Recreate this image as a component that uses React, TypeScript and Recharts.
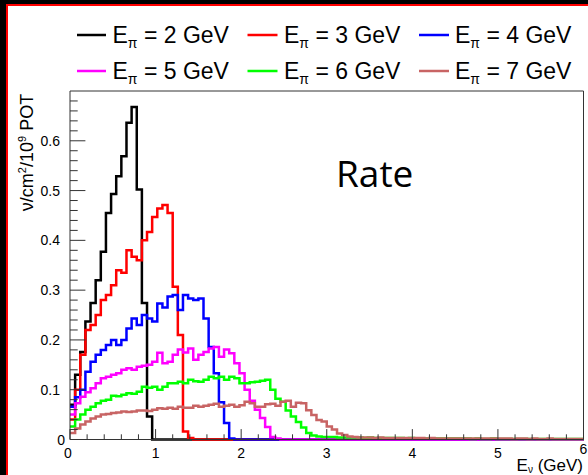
import React from 'react';
import { LineChart, Line, XAxis, YAxis } from 'recharts';

const BIN_WIDTH = 0.06;
const N_BINS = 100;

// Histogram contents (neutrinos/cm^2/10^9 POT per 0.06 GeV bin)
const E_PI_2 = [0.07, 0.13, 0.176, 0.237, 0.274, 0.32, 0.377, 0.455, 0.493, 0.529, 0.569, 0.636, 0.668, 0.502, 0.274, 0.046, 0.0];
const E_PI_3 = [0.04, 0.1, 0.17, 0.22, 0.23, 0.25, 0.28, 0.29, 0.31, 0.34, 0.335, 0.38, 0.367, 0.36, 0.4, 0.417, 0.447, 0.464, 0.471, 0.455, 0.307, 0.21, 0.016, 0.003, 0.0];
const E_PI_4 = [0.066, 0.085, 0.1, 0.136, 0.156, 0.17, 0.18, 0.19, 0.2, 0.19, 0.2, 0.223, 0.243, 0.23, 0.25, 0.243, 0.237, 0.273, 0.265, 0.287, 0.29, 0.26, 0.29, 0.283, 0.28, 0.283, 0.243, 0.186, 0.133, 0.075, 0.033, 0.002, 0.0];
const E_PI_5 = [0.05, 0.073, 0.086, 0.095, 0.103, 0.113, 0.123, 0.126, 0.13, 0.133, 0.14, 0.143, 0.14, 0.146, 0.148, 0.15, 0.156, 0.174, 0.153, 0.156, 0.17, 0.181, 0.175, 0.183, 0.16, 0.17, 0.176, 0.183, 0.186, 0.166, 0.181, 0.173, 0.153, 0.133, 0.1, 0.078, 0.06, 0.043, 0.025, 0.005, 0.002, 0.0];
const E_PI_6 = [0.026, 0.04, 0.05, 0.06, 0.066, 0.073, 0.078, 0.08, 0.088, 0.087, 0.09, 0.093, 0.092, 0.096, 0.106, 0.104, 0.106, 0.1, 0.106, 0.113, 0.113, 0.116, 0.113, 0.12, 0.117, 0.116, 0.12, 0.126, 0.123, 0.126, 0.12, 0.126, 0.123, 0.113, 0.113, 0.115, 0.116, 0.118, 0.12, 0.1, 0.082, 0.076, 0.058, 0.046, 0.035, 0.024, 0.013, 0.008, 0.006, 0.005, 0.005,
  0.005, 0.004, 0.004, 0.004, 0.004, 0.004, 0.003, 0.004, 0.003, 0.003, 0.003, 0.003, 0.003, 0.003, 0.002, 0.003, 0.002, 0.002, 0.002, 0.002, 0.002, 0.002, 0.002, 0.002, 0.002, 0.002, 0.002, 0.001, 0.002, 0.001, 0.001, 0.002, 0.001, 0.001, 0.001, 0.001, 0.001, 0.001, 0.001, 0.001, 0.001, 0.001, 0.001, 0.001, 0.001, 0.001, 0.001, 0.001, 0.001];
const E_PI_7 = [0.013, 0.022, 0.03, 0.036, 0.042, 0.046, 0.05, 0.051, 0.053, 0.054, 0.056, 0.055, 0.056, 0.058, 0.058, 0.057, 0.06, 0.063, 0.062, 0.064, 0.062, 0.066, 0.064, 0.064, 0.068, 0.066, 0.068, 0.07, 0.072, 0.066, 0.068, 0.07, 0.066, 0.069, 0.076, 0.073, 0.066, 0.066, 0.071, 0.072, 0.068, 0.076, 0.078, 0.066, 0.074, 0.073, 0.059, 0.049, 0.039, 0.036, 0.026, 0.02, 0.012, 0.009, 0.006,
  0.005, 0.004, 0.004, 0.004, 0.003, 0.004, 0.003, 0.003, 0.003, 0.003, 0.003, 0.003, 0.003, 0.003, 0.002, 0.003, 0.002, 0.002, 0.002, 0.002, 0.002, 0.002, 0.002, 0.002, 0.002, 0.002, 0.002, 0.002, 0.002, 0.002, 0.002, 0.001, 0.002, 0.002, 0.001, 0.002, 0.001, 0.001, 0.002, 0.001, 0.001, 0.001, 0.001, 0.001, 0.001];

const SERIES_LABELS = ['2', '3', '4', '5', '6', '7'];
const SERIES_COLORS = ['#000000', '#ff0000', '#0000ff', '#ff00ff', '#00ff00', '#c86464'];
const SERIES_VALUES = [E_PI_2, E_PI_3, E_PI_4, E_PI_5, E_PI_6, E_PI_7];

const X_DOMAIN = [0, 6];
const Y_DOMAIN = [0, 0.7];
const X_TICKS = Array.from({ length: 31 }, (_, i) => +(i * 0.2).toFixed(1));
const Y_TICKS = Array.from({ length: 35 }, (_, i) => +(i * 0.02).toFixed(2));

const padded = SERIES_VALUES.map((a) => Array.from({ length: N_BINS }, (_, i) => (a[i] !== undefined ? a[i] : 0)));
const rows = Array.from({ length: N_BINS + 1 }, (_, i) => {
  const row: any = { e: +(i * BIN_WIDTH).toFixed(2) };
  padded.forEach((vals, k) => {
    row['s' + k] = vals[Math.min(i, N_BINS - 1)];
  });
  return row;
});

const FONT = '"Liberation Sans", Arial, Helvetica, sans-serif';
const AXIS_COLOR = '#333';

const isMajorX = (v: number) => Math.abs(v - Math.round(v)) < 1e-6;
const isMajorY = (v: number) => Math.abs(v * 10 - Math.round(v * 10)) < 1e-6;

const XTick = (props: any) => {
  const { x, y, payload } = props;
  const v = payload.value;
  const major = isMajorX(v);
  const len = major ? 10.4 : 5.2;
  const last = v === X_DOMAIN[1];
  return (
    <g>
      <line x1={x} x2={x} y1={y} y2={y - len} stroke={AXIS_COLOR} strokeWidth={1} />
      {major && (
        <text x={v === 0 ? x - 2 : x} y={last ? y + 14 : y + 18} textAnchor="middle" fontFamily={FONT} fontSize={14} fill="#000">
          {String(v)}
        </text>
      )}
    </g>
  );
};

const YTick = (props: any) => {
  const { x, y, payload } = props;
  const v = payload.value;
  const major = isMajorY(v);
  const len = major ? 15.4 : 7.7;
  return (
    <g>
      <line x1={x} x2={x + len} y1={y} y2={y} stroke={AXIS_COLOR} strokeWidth={1} />
      {major && (
        <text x={v === 0 ? x - 5 : x - 10} y={y + 5} textAnchor="end" fontFamily={FONT} fontSize={14} fill="#000">
          {String(v)}
        </text>
      )}
    </g>
  );
};

const LEGEND_COLS = [
  { x1: 77, x2: 106, tx: 112.5 },
  { x1: 247.5, x2: 277.5, tx: 284 },
  { x1: 419, x2: 449, tx: 455 },
];
const LEGEND_ROWS = [{ ly: 35, ty: 43 }, { ly: 71, ty: 79 }];

export default function App() {
  return (
    <div style={{ position: 'absolute', left: 0, top: 0, width: 588, height: 475, background: '#000', overflow: 'hidden' }}>
      <div
        style={{
          position: 'absolute',
          left: 6,
          top: 4,
          width: 600,
          height: 500,
          background: '#fff',
          borderLeft: '2px solid #ff0000',
          borderTop: '2px solid #ff0000',
        }}
      />
      <div style={{ position: 'absolute', left: 0, top: 0 }}>
        <LineChart width={588} height={475} data={rows} margin={{ top: 90, right: 3.5, bottom: 34.5, left: 69 }}>
          <XAxis
            dataKey="e"
            type="number"
            domain={X_DOMAIN}
            ticks={X_TICKS}
            interval={0}
            height={1}
            tickSize={0}
            tickMargin={0}
            tickLine={false}
            axisLine={{ stroke: AXIS_COLOR, strokeWidth: 1 }}
            tick={<XTick />}
          />
          <XAxis xAxisId="top" orientation="top" type="number" domain={X_DOMAIN} height={1} tick={false} tickLine={false} axisLine={{ stroke: AXIS_COLOR, strokeWidth: 1 }} />
          <YAxis
            type="number"
            domain={Y_DOMAIN}
            ticks={Y_TICKS}
            interval={0}
            width={1}
            tickSize={0}
            tickMargin={0}
            tickLine={false}
            axisLine={{ stroke: AXIS_COLOR, strokeWidth: 1 }}
            tick={<YTick />}
          />
          <YAxis yAxisId="right" orientation="right" type="number" domain={Y_DOMAIN} width={1} tick={false} tickLine={false} axisLine={{ stroke: AXIS_COLOR, strokeWidth: 1 }} />
          {SERIES_LABELS.map((lab, k) => (
            <Line
              key={lab}
              dataKey={'s' + k}
              type="stepAfter"
              stroke={SERIES_COLORS[k]}
              strokeWidth={2.5}
              dot={false}
              activeDot={false}
              isAnimationActive={false}
            />
          ))}
        </LineChart>
      </div>
      <svg width={588} height={475} style={{ position: 'absolute', left: 0, top: 0, pointerEvents: 'none' }}>
        {SERIES_LABELS.map((lab, k) => {
          const col = LEGEND_COLS[k % 3];
          const row = LEGEND_ROWS[Math.floor(k / 3)];
          return (
            <g key={lab}>
              <line x1={col.x1} x2={col.x2} y1={row.ly} y2={row.ly} stroke={SERIES_COLORS[k]} strokeWidth={2.5} />
              <text x={col.tx} y={row.ty} fontFamily={FONT} fontSize={23} fill="#000">
                E
                <tspan fontSize={14} dy={5}>π</tspan>
                <tspan dy={-5}>{` = ${lab} GeV`}</tspan>
              </text>
            </g>
          );
        })}
        <text x={336} y={187} fontFamily='"Open Sans", "Noto Sans", sans-serif' fontSize={37} fill="#000">
          Rate
        </text>
        <text
          x={33}
          y={152.5}
          transform="rotate(-90, 33, 152.5)"
          textAnchor="middle"
          fontFamily={FONT}
          fontSize={18}
          fill="#000"
        >
          ν/cm
          <tspan fontSize={11} dy={-7}>2</tspan>
          <tspan dy={7}>/10</tspan>
          <tspan fontSize={11} dy={-7}>9</tspan>
          <tspan dy={7}> POT</tspan>
        </text>
        <text x={583} y={471} textAnchor="end" fontFamily={FONT} fontSize={17} fill="#000">
          E
          <tspan fontSize={10} dy={2}>ν</tspan>
          <tspan dy={-2}> (GeV)</tspan>
        </text>
      </svg>
    </div>
  );
}
